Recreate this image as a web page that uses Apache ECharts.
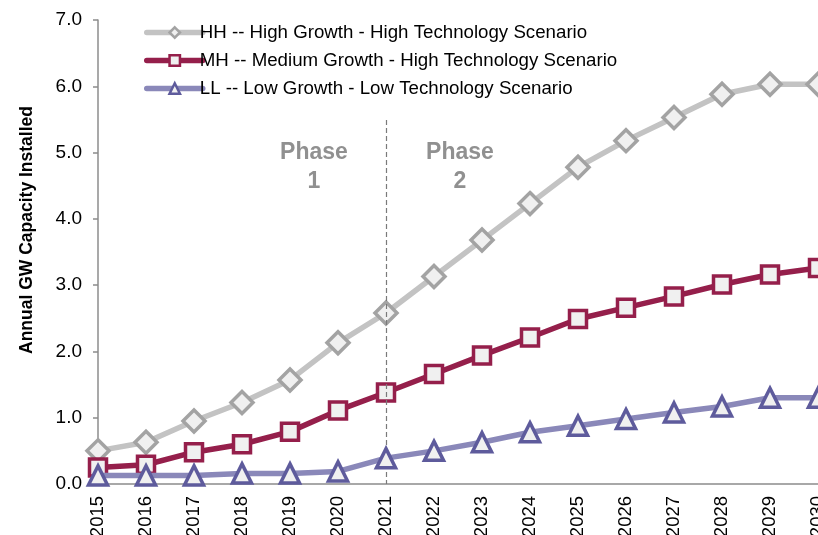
<!DOCTYPE html>
<html><head><meta charset="utf-8">
<script src="https://cdn.jsdelivr.net/npm/echarts@6/dist/echarts.min.js"></script>
<style>html,body{margin:0;padding:0;background:#fff}#c{width:818px;height:535px}</style>
</head><body><div id="c"></div>
<script>
const years = ['2015','2016','2017','2018','2019','2020','2021','2022','2023','2024','2025','2026','2027','2028','2029','2030'];
const hh = [0.50,0.63,0.95,1.23,1.57,2.13,2.58,3.13,3.68,4.23,4.78,5.18,5.53,5.88,6.03,6.03];
const mh = [0.25,0.29,0.48,0.60,0.79,1.11,1.38,1.66,1.94,2.21,2.49,2.66,2.83,3.01,3.16,3.26];
const ll = [0.13,0.13,0.13,0.16,0.16,0.19,0.39,0.50,0.63,0.78,0.88,0.98,1.08,1.17,1.30,1.30];
const names = ['HH -- High Growth - High Technology Scenario','MH -- Medium Growth - High Technology Scenario','LL -- Low Growth - Low Technology Scenario'];
const yTitle = 'Annual GW Capacity Installed';
const phaseLabels = ['Phase\n1','Phase\n2'];
const phaseLine = '2021';
const phaseTop = 5.49;

const chart = echarts.init(document.getElementById('c'), null, {renderer:'canvas'});
const font = 'Liberation Sans, Arial, sans-serif';
function ser(name, data, lineColor, borderColor, symbol, size, extra){
  return Object.assign({
    name, type:'line', data, symbol, symbolSize:size, showAllSymbol:true,
    lineStyle:{color:lineColor, width:5.5},
    itemStyle:{color:'#f0f0f0', borderColor:borderColor, borderWidth:3.5},
    emphasis:{disabled:true}, z:2
  }, extra||{});
}
chart.setOption({
  animation:false,
  textStyle:{fontFamily:font},
  grid:{left:98, right:0, top:20, bottom:51, containLabel:false, outerBoundsMode:'none'},
  legend:{
    orient:'vertical', left:139, top:17, itemWidth:56, itemHeight:13, itemGap:7,
    textStyle:{fontSize:18.7, color:'#000', fontFamily:font, padding:[0,0,0,-8], lineHeight:21},
    lineStyle:{width:5.5, cap:'round'},
    itemStyle:{borderWidth:2.5},
    data:names
  },
  xAxis:{
    type:'category', data:years, boundaryGap:false,
    axisLine:{lineStyle:{color:'#8c8c8c', width:1.5}},
    axisTick:{show:false},
    axisLabel:{rotate:90, color:'#000', fontSize:18.5, margin:12, fontFamily:font}
  },
  yAxis:{
    type:'value', min:0, max:7, interval:1,
    axisLine:{show:true, lineStyle:{color:'#8c8c8c', width:1.5}},
    axisTick:{show:true, inside:false, length:5, lineStyle:{color:'#8c8c8c', width:1.5}},
    splitLine:{show:false},
    axisLabel:{formatter:v=>v.toFixed(1), color:'#000', fontSize:19, margin:16, fontFamily:font}
  },
  series:[
    ser(names[0], hh, '#c3c3c3', '#a3a3a3', 'diamond', 22, {
      markLine:{silent:true, symbol:'none', label:{show:false},
        lineStyle:{type:[5,3], color:'#7a7a7a', width:1.2},
        data:[[{coord:[phaseLine, phaseTop]},{coord:[phaseLine, 0]}]]},
      z:3
    }),
    ser(names[1], mh, '#951f4b', '#951f4b', 'rect', 17, {z:4}),
    ser(names[2], ll, '#8a88b9', '#5e5b9c', 'triangle', 19, {z:5})
  ],
  graphic:[
    {type:'text', x:27, y:230, rotation:Math.PI/2, style:{text:yTitle, fill:'#000', font:'bold 17.5px '+font, align:'center', verticalAlign:'middle'}},
    {type:'text', x:314, y:138, style:{text:phaseLabels[0], fill:'#909090', font:'bold 23px '+font, align:'center', verticalAlign:'top', lineHeight:29}},
    {type:'text', x:460, y:138, style:{text:phaseLabels[1], fill:'#909090', font:'bold 23px '+font, align:'center', verticalAlign:'top', lineHeight:29}}
  ]
});
</script></body></html>
